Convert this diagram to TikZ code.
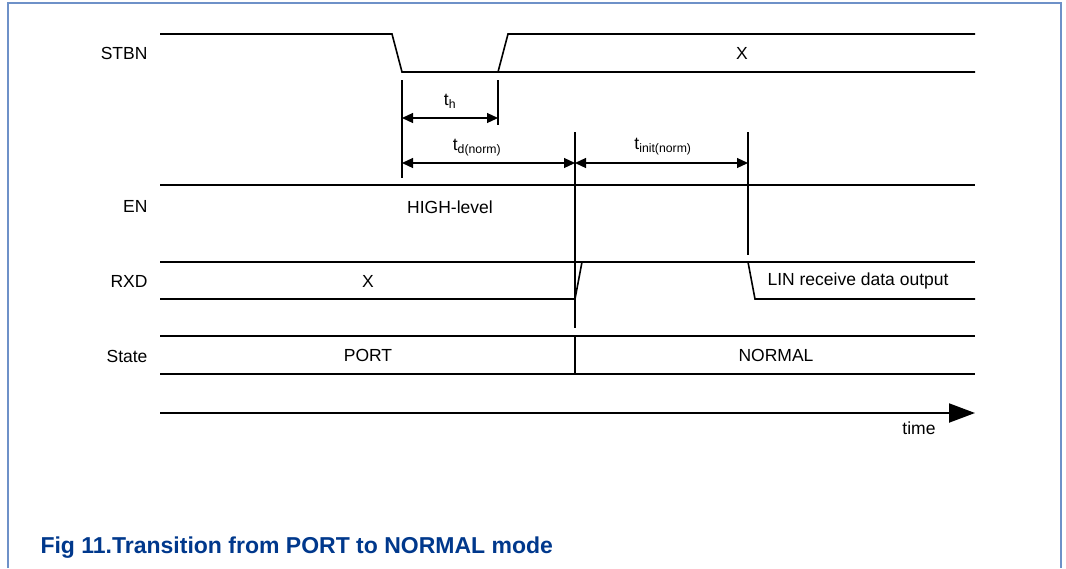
\documentclass[tikz,border=0pt]{standalone}
\usepackage{fontspec}
\setmainfont{Liberation Sans}
\usetikzlibrary{positioning,arrows.meta}
\definecolor{framebl}{RGB}{110,145,200}
\definecolor{capbl}{RGB}{0,56,140}

\begin{document}
\begin{tikzpicture}[x=1pt,y=-1pt,font=\fontsize{17.5}{21}\selectfont,
  sig/.style={line width=1.6pt},
  vbar/.style={line width=1.2pt},
  dim/.style={{Triangle[length=11pt,width=10pt]}-{Triangle[length=11pt,width=10pt]},line width=1.2pt}]

\useasboundingbox (0,0) rectangle (1066,568);
\draw[framebl,line width=1.5pt] (8,568) -- (8,3) -- (1061,3) -- (1061,568);

% signal names
\node[anchor=east] (STBN) at (151,53) {STBN};
\node[anchor=east] (EN) at (151,206) {EN};
\node[anchor=east] (RXD) at (151,281) {RXD};
\node[anchor=east] (State) at (151,356) {State};

% STBN
\draw[sig] (160,34) -- (392,34) -- (402,72) -- (975,72);
\draw[sig] (498,72) -- (508,34) -- (975,34);
\node (stbnx) at (742,53) {X};

% EN
\draw[sig] (160,185) -- (975,185);
\node (high) at (450,207) {HIGH-level};

% RXD
\draw[sig] (160,262) -- (975,262);
\draw[sig] (160,299) -- (575,299) -- (582,262);
\draw[sig] (748,262) -- (755,299) -- (975,299);
\node (rxdx) at (368,281) {X};
\node[anchor=west] (lin) at (764,281) {LIN receive data output};

% State
\draw[sig] (160,336) -- (975,336);
\draw[sig] (160,374) -- (975,374);
\draw[vbar] (575,336) -- (575,374);
\node (port) at (368,355) {PORT};
\node (normal) at (776,355) {NORMAL};

% timing marks
\draw[vbar] (402,80) -- (402,178);
\draw[vbar] (498,80) -- (498,125);
\draw[vbar] (575,132) -- (575,328);
\draw[vbar] (748,132) -- (748,255);

\coordinate (th0) at (402,118); \coordinate (th1) at (498,118);
\coordinate (td0) at (402,163); \coordinate (td1) at (575,163);
\coordinate (ti0) at (575,163); \coordinate (ti1) at (748,163);
\draw[dim] (th0) -- (th1);
\draw[dim] (td0) -- (td1);
\draw[dim] (ti0) -- (ti1);
\node (th) at (450,101) {t\textsubscript{h}};
\node (td) at (477,148) {t\textsubscript{d(norm)}};
\node (ti) at (663,147) {t\textsubscript{init(norm)}};

% time axis
\coordinate (t0) at (160,413); \coordinate (t1) at (975,413);
\draw[line width=2pt,-{Triangle[length=26pt,width=19pt]}] (t0) -- (t1);
\node (time) at (919,428) {time};

\node[anchor=west,text=capbl,font=\bfseries\fontsize{23}{27}\selectfont] (cap) at (37,548) {Fig 11.Transition from PORT to NORMAL mode};
\end{tikzpicture}
\end{document}
